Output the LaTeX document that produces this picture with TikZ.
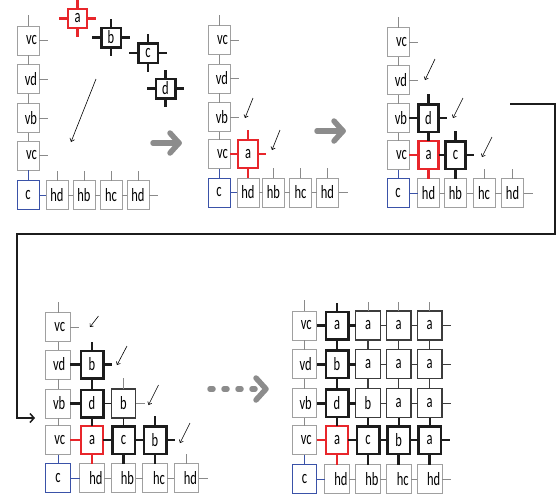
\documentclass[tikz,border=0pt]{standalone}
\usepackage{fontspec}
\setmainfont{Carlito}
\usepackage{graphicx}
\usetikzlibrary{arrows.meta}
\definecolor{gbord}{HTML}{A0A0A0}
\definecolor{gline}{HTML}{8A8A8A}
\definecolor{bluec}{HTML}{3A52A8}
\definecolor{redc}{HTML}{E8262B}
\definecolor{blk}{HTML}{1C1C1C}
\definecolor{thinc}{HTML}{3C3C3C}
\definecolor{arrg}{HTML}{8C8C8C}
\newcommand\stx[1]{\scalebox{1}[1.5]{#1}}
\newcommand\hlab[1]{\raisebox{-2pt}{\hspace*{\hsh}\stx{#1}}}
\tikzset{
  gbox/.style={draw=gbord,line width=0.9pt,fill=white,minimum width=\W,minimum height=29pt},
  vtxt/.style={text width=\Wt,align=right},
  bbox/.style={draw=bluec,line width=0.9pt,fill=white,minimum width=\W,minimum height=29pt},
  kbox/.style={draw=blk,line width=2.5pt,fill=white,minimum width=\Wk,minimum height=27.5pt},
  rbox/.style={draw=redc,line width=2.2pt,fill=white,minimum width=\Wk,minimum height=27.5pt},
  tbox/.style={draw=thinc,line width=1.1pt,fill=white,minimum width=\W,minimum height=29pt},
  sq/.style={minimum width=19.5pt,minimum height=19.5pt},
  gl/.style={draw=gline,line width=0.8pt},
  bl/.style={draw=bluec,line width=0.9pt},
  rl/.style={draw=redc,line width=2.2pt},
  rlt/.style={draw=redc,line width=1.5pt},
  kl/.style={draw=blk,line width=2.5pt},
  km/.style={draw=blk,line width=1.8pt},
  tl/.style={draw=thinc,line width=1.1pt},
  sarrow/.style={draw=black,line width=0.6pt,-{Straight Barb[length=2.5pt,width=4.5pt]}},
  garrow/.style={draw=arrg,line width=5.5pt,line cap=round,line join=round},
  conn/.style={draw=blk,line width=1.5pt,-{Straight Barb[length=4pt,width=9pt]}},
}
\newcommand\cross[2]{%
  \draw[#2] (#1.north) -- ++(0,-9);
  \draw[#2] (#1.south) -- ++(0,9);
  \draw[#2] (#1.east) -- ++(9,0);
  \draw[#2] (#1.west) -- ++(-9,0);}
\newcommand\drawframe[1]{%
  \node[gbox,vtxt] (#1v1) at (\Xc,\YA) {\stx{vc}};
  \node[gbox,vtxt] (#1v2) at (\Xc,\YB) {\stx{vd}};
  \node[gbox,vtxt] (#1v3) at (\Xc,\YC) {\stx{vb}};
  \node[gbox,vtxt] (#1v4) at (\Xc,\YD) {\stx{vc}};
  \node[bbox] (#1c) at (\Xc,\YE) {\stx{c}};
  \node[gbox] (#1h1) at (\XA,\YE) {\hlab{hd}};
  \node[gbox] (#1h2) at (\XB,\YE) {\hlab{hb}};
  \node[gbox] (#1h3) at (\XC,\YE) {\hlab{hc}};
  \node[gbox] (#1h4) at (\XD,\YE) {\hlab{hd}};
  \draw[gl] (#1v1.north) -- ++(0,-11);
  \draw[gl] (#1v1.south) -- (#1v2.north);
  \draw[gl] (#1v2.south) -- (#1v3.north);
  \draw[gl] (#1v3.south) -- (#1v4.north);
  \draw[bl] (#1v4.south) -- (#1c.north);
  \draw[bl] (#1c.east) -- (#1h1.west);
  \foreach \k in {1,2,3,4} {\draw[gl] (#1v\k.east) -- ++(9,0); \draw[gl] (#1h\k.north) -- ++(0,-10);}
  \draw[gl] (#1h1.east) -- (#1h2.west);
  \draw[gl] (#1h2.east) -- (#1h3.west);
  \draw[gl] (#1h3.east) -- (#1h4.west);
  \draw[gl] (#1h4.east) -- ++(9,0);}
\begin{document}
\begin{tikzpicture}[x=1pt,y=-1pt,font=\fontsize{12.5}{12.5}\selectfont,
  every node/.style={inner sep=0pt,outer sep=0pt}]
\useasboundingbox (0,0) rectangle (557,499);

% ---------- panel 1 ----------
\def\W{22pt}\def\Wt{18pt}\def\Wk{20pt}\def\hsh{0pt}
\def\Xc{28}\def\XA{57}\def\XB{84}\def\XC{111}\def\XD{138}
\def\YA{40.5}\def\YB{79}\def\YC{118}\def\YD{155.5}\def\YE{195}
\drawframe{A}
\node[rbox,sq] (Aa) at (77.5,18.5) {\stx{a}};
\node[kbox,sq] (Ab) at (111,37.5) {\stx{b}};
\node[kbox,sq] (Ac) at (148,53) {\stx{c}};
\node[kbox,sq] (Ad) at (165.5,88.5) {\stx{d}};
\cross{Aa}{rl}\cross{Ab}{kl}\cross{Ac}{kl}\cross{Ad}{kl}
\coordinate (As) at (96,79); \coordinate (Ae) at (71,142);
\draw[black,line width=0.6pt,-{Straight Barb[length=3pt,width=5pt]}] (As) -- (Ae);

% gray arrow 1
\coordinate (G1s) at (153,143); \coordinate (G1e) at (179,143);
\coordinate (G1u) at (170,133); \coordinate (G1d) at (170,153);
\draw[garrow] (G1s) -- (G1e);
\draw[garrow] (G1u) -- (G1e) -- (G1d);

% ---------- panel 2 ----------
\def\Xc{219}\def\XA{248}\def\XB{273.5}\def\XC{300.5}\def\XD{327.5}
\def\YA{40}\def\YB{78.5}\def\YC{117}\def\YD{154}\def\YE{192.5}
\drawframe{B}
\node[rbox] (Ba) at (\XA,\YD) {\stx{a}};
\draw[rlt] (Bv4.east) -- (Ba.west);
\draw[rl] (Ba.south) -- (Bh1.north);
\draw[rl] (Ba.north) -- ++(0,-10);
\draw[rl] (Ba.east) -- ++(8,0);
\coordinate (Bs1) at (253,98); \coordinate (Be1) at (245,118);
\coordinate (Bs2) at (280,130); \coordinate (Be2) at (272,150);
\draw[sarrow] (Bs1) -- (Be1);
\draw[sarrow] (Bs2) -- (Be2);

% gray arrow 2
\coordinate (G2s) at (317,131); \coordinate (G2e) at (343,131);
\coordinate (G2u) at (334,121); \coordinate (G2d) at (334,141);
\draw[garrow] (G2s) -- (G2e);
\draw[garrow] (G2u) -- (G2e) -- (G2d);

% ---------- panel 3 ----------
\def\Xc{398}\def\XA{428.5}\def\XB{455.5}\def\XC{484}\def\XD{512.5}
\def\YA{42}\def\YB{80}\def\YC{118}\def\YD{155}\def\YE{193}
\drawframe{C}
\node[kbox] (Cd) at (\XA,\YC) {\stx{d}};
\node[rbox] (Ca) at (\XA,\YD) {\stx{a}};
\node[kbox] (Cc) at (\XB,\YD) {\stx{c}};
\draw[kl] (Cv3.east) -- (Cd.west);
\draw[rlt] (Cv4.east) -- (Ca.west);
\draw[kl] (Cd.south) -- (Ca.north);
\draw[kl] (Ca.east) -- (Cc.west);
\draw[rl] (Ca.south) -- (Ch1.north);
\draw[kl] (Cc.south) -- (Ch2.north);
\draw[kl] (Cd.north) -- ++(0,-10);
\draw[kl] (Cd.east) -- ++(8,0);
\draw[kl] (Cc.north) -- ++(0,-10);
\draw[kl] (Cc.east) -- ++(8,0);
\coordinate (Cs1) at (435,59); \coordinate (Ce1) at (425,80);
\coordinate (Cs2) at (463,98); \coordinate (Ce2) at (453,118);
\coordinate (Cs3) at (492,137); \coordinate (Ce3) at (482,157);
\draw[sarrow] (Cs1) -- (Ce1);
\draw[sarrow] (Cs2) -- (Ce2);
\draw[sarrow] (Cs3) -- (Ce3);

% ---------- big connector ----------
\coordinate (K1) at (510,104); \coordinate (K2) at (555,104);
\coordinate (K3) at (555,234); \coordinate (K4) at (17,234);
\coordinate (K5) at (17,418); \coordinate (K6) at (35,418);
\draw[conn] (K1) -- (K2) -- (K3) -- (K4) -- (K5) -- (K6);

% ---------- panel 4 ----------
\def\W{24.5pt}\def\Wt{14.5pt}\def\Wk{22.5pt}\def\hsh{8pt}
\def\Xc{58}\def\XA{92}\def\XB{123.5}\def\XC{155}\def\XD{186.5}
\def\YA{327}\def\YB{364.5}\def\YC{403.5}\def\YD{440}\def\YE{478}
\drawframe{D}
\node[kbox] (Db1) at (\XA,\YB) {\stx{b}};
\node[kbox] (Dd) at (\XA,\YC) {\stx{d}};
\node[tbox] (Db2) at (\XB,\YC) {\stx{b}};
\node[rbox] (Da) at (\XA,\YD) {\stx{a}};
\node[kbox] (Dc) at (\XB,\YD) {\stx{c}};
\node[kbox] (Db3) at (\XC,\YD) {\stx{b}};
\draw[kl] (Dv2.east) -- (Db1.west);
\draw[kl] (Dv3.east) -- (Dd.west);
\draw[rlt] (Dv4.east) -- (Da.west);
\draw[kl] (Db1.south) -- (Dd.north);
\draw[kl] (Dd.south) -- (Da.north);
\draw[km] (Dd.east) -- (Db2.west);
\draw[km] (Db2.south) -- (Dc.north);
\draw[kl] (Da.east) -- (Dc.west);
\draw[kl] (Dc.east) -- (Db3.west);
\draw[rl] (Da.south) -- (Dh1.north);
\draw[kl] (Dc.south) -- (Dh2.north);
\draw[kl] (Db3.south) -- (Dh3.north);
\draw[kl] (Db1.north) -- ++(0,-9);
\draw[kl] (Db1.east) -- ++(9,0);
\draw[gl] (Db2.north) -- ++(0,-11);
\draw[gl] (Db2.east) -- ++(9,0);
\draw[kl] (Db3.north) -- ++(0,-10);
\draw[kl] (Db3.east) -- ++(9,0);
\coordinate (Ds1) at (98.5,316); \coordinate (De1) at (90,327);
\coordinate (Ds2) at (127,346); \coordinate (De2) at (117,365);
\coordinate (Ds3) at (158.5,385); \coordinate (De3) at (148.5,405);
\coordinate (Ds4) at (190,423); \coordinate (De4) at (180,443);
\draw[sarrow] (Ds1) -- (De1);
\draw[sarrow] (Ds2) -- (De2);
\draw[sarrow] (Ds3) -- (De3);
\draw[sarrow] (Ds4) -- (De4);

% dotted gray arrow
\coordinate (G3s) at (210,389); \coordinate (G3e) at (258,389);
\coordinate (G3u) at (256,378); \coordinate (G3t) at (266,389); \coordinate (G3d) at (256,400);
\draw[garrow,dash pattern=on 3pt off 11pt] (G3s) -- (G3e);
\draw[garrow] (G3u) -- (G3t) -- (G3d);

% ---------- panel 5 ----------
\def\Xc{304.5}\def\XA{337}\def\XB{368}\def\XC{398.7}\def\XD{429.7}
\def\YA{325.5}\def\YB{364.3}\def\YC{403.3}\def\YD{440}\def\YE{479}
\drawframe{E}
\node[kbox] (E11) at (\XA,\YA) {\stx{a}};
\node[kbox] (E12) at (\XA,\YB) {\stx{b}};
\node[kbox] (E13) at (\XA,\YC) {\stx{d}};
\node[rbox] (E14) at (\XA,\YD) {\stx{a}};
\node[tbox] (E21) at (\XB,\YA) {\stx{a}};
\node[tbox] (E22) at (\XB,\YB) {\stx{a}};
\node[tbox] (E23) at (\XB,\YC) {\stx{b}};
\node[kbox] (E24) at (\XB,\YD) {\stx{c}};
\node[tbox] (E31) at (\XC,\YA) {\stx{a}};
\node[tbox] (E32) at (\XC,\YB) {\stx{a}};
\node[tbox] (E33) at (\XC,\YC) {\stx{a}};
\node[kbox] (E34) at (\XC,\YD) {\stx{b}};
\node[tbox] (E41) at (\XD,\YA) {\stx{a}};
\node[tbox] (E42) at (\XD,\YB) {\stx{a}};
\node[tbox] (E43) at (\XD,\YC) {\stx{a}};
\node[kbox] (E44) at (\XD,\YD) {\stx{a}};
\draw[kl] (Ev1.east) -- (E11.west);
\draw[kl] (Ev2.east) -- (E12.west);
\draw[kl] (Ev3.east) -- (E13.west);
\draw[rlt] (Ev4.east) -- (E14.west);
\draw[kl] (E11.north) -- ++(0,-9);
\draw[kl] (E11.south) -- (E12.north);
\draw[kl] (E12.south) -- (E13.north);
\draw[kl] (E13.south) -- (E14.north);
\draw[rl] (E14.south) -- (Eh1.north);
\foreach \r in {1,2,3} {
  \draw[kl] (E1\r.east) -- (E2\r.west);
  \draw[tl] (E2\r.east) -- (E3\r.west);
  \draw[tl] (E3\r.east) -- (E4\r.west);
  \draw[tl] (E4\r.east) -- ++(9,0);}
\draw[kl] (E14.east) -- (E24.west);
\draw[kl] (E24.east) -- (E34.west);
\draw[kl] (E34.east) -- (E44.west);
\draw[kl] (E44.east) -- ++(9,0);
\foreach \c/\h in {2/2,3/3,4/4} {
  \draw[gl] (E\c1.north) -- ++(0,-9);
  \draw[tl] (E\c1.south) -- (E\c2.north);
  \draw[tl] (E\c2.south) -- (E\c3.north);
  \draw[km] (E\c3.south) -- (E\c4.north);
  \draw[kl] (E\c4.south) -- (Eh\h.north);}
\end{tikzpicture}
\end{document}
